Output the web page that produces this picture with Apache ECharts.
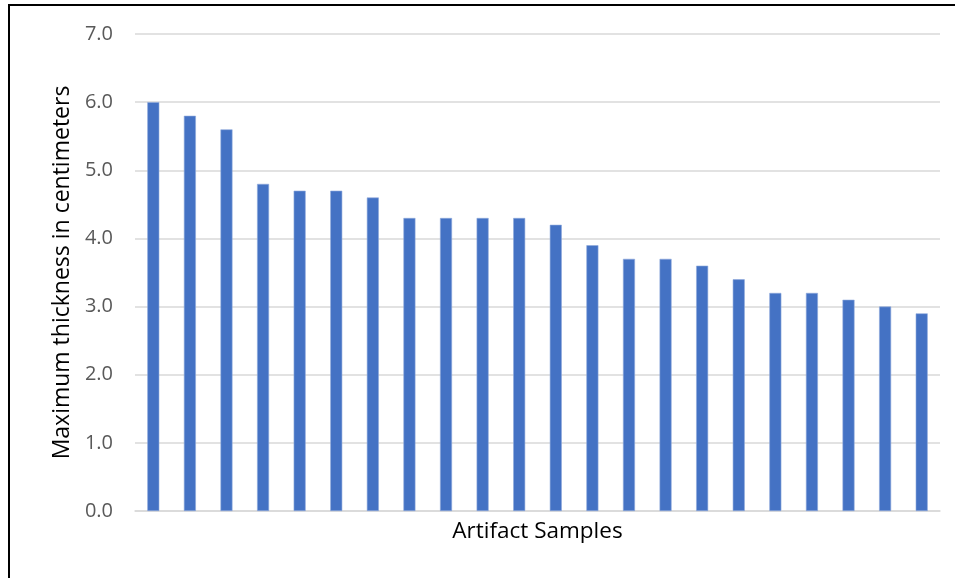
<!DOCTYPE html>
<html>
<head>
<meta charset="utf-8">
<script src="https://cdn.jsdelivr.net/npm/echarts@6/dist/echarts.min.js"></script>
<style>
  html, body { margin: 0; padding: 0; background: #fff; }
  #chart { width: 959px; height: 578px; }
</style>
</head>
<body>
<div id="chart"></div>
<script>
// Artifact samples, sorted by maximum thickness (cm)
const samples = ['1','2','3','4','5','6','7','8','9','10','11','12','13','14','15','16','17','18','19','20','21','22'];
const thickness = [6.0, 5.8, 5.6, 4.8, 4.7, 4.7, 4.6, 4.3, 4.3, 4.3, 4.3, 4.2, 3.9, 3.7, 3.7, 3.6, 3.4, 3.2, 3.2, 3.1, 3.0, 2.9];
const yTicks = { min: 0, max: 7, step: 1 };

const FONT = 'Open Sans';
const chart = echarts.init(document.getElementById('chart'), null, { renderer: 'canvas' });

chart.setOption({
  animation: false,
  backgroundColor: '#ffffff',
  grid: { left: 135, right: 19, top: 34, bottom: 67, containLabel: false },
  xAxis: {
    type: 'category',
    data: samples,
    name: 'Artifact Samples',
    nameLocation: 'middle',
    nameGap: 9,
    nameTextStyle: { fontFamily: FONT, fontSize: 22.5, color: '#000000' },
    axisLine: { show: true, lineStyle: { color: '#d9d9d9', width: 1.5 } },
    axisTick: { show: false },
    axisLabel: { show: false },
    splitLine: { show: false }
  },
  yAxis: {
    type: 'value',
    min: yTicks.min,
    max: yTicks.max,
    interval: yTicks.step,
    name: 'Maximum thickness in centimeters',
    nameLocation: 'middle',
    nameGap: 61,
    nameTextStyle: { fontFamily: FONT, fontSize: 23, color: '#000000' },
    axisLine: { show: false },
    axisTick: { show: false },
    axisLabel: {
      fontFamily: FONT, fontSize: 20, color: '#595959', margin: 22,
      formatter: v => v.toFixed(1)
    },
    splitLine: { show: true, lineStyle: { color: '#d9d9d9', width: 1.5 } }
  },
  series: [{
    type: 'bar',
    data: thickness,
    barWidth: 12,
    itemStyle: { color: '#4472c4', borderColor: '#8fa9dc', borderWidth: 0.6 }
  }],
  graphic: [
    { type: 'line', shape: { x1: 9, y1: 5, x2: 9, y2: 578 }, style: { stroke: '#000', lineWidth: 2 } },
    { type: 'line', shape: { x1: 8, y1: 5, x2: 955, y2: 5 }, style: { stroke: '#000', lineWidth: 2 } }
  ]
});
</script>
</body>
</html>
